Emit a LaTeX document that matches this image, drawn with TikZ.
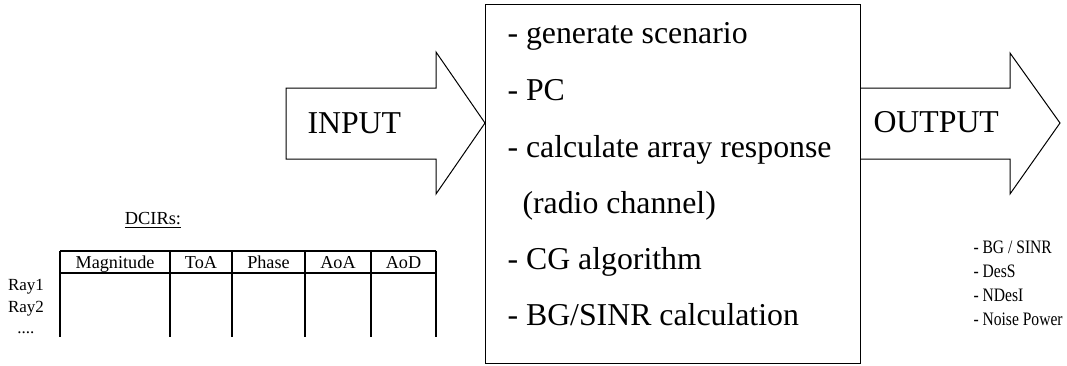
\documentclass[tikz,border=0pt]{standalone}
\usepackage{fontspec}
\setmainfont{Liberation Serif}

\begin{document}
\begin{tikzpicture}[
        x=0.5pt, y=-0.5pt, line width=0.5pt,
        every node/.style={inner sep=0pt},
        bigtxt/.style={anchor=base west, font=\fontsize{15.9}{18}\selectfont},
        hdrtxt/.style={anchor=base, font=\fontsize{9.1}{10}\selectfont},
        smalltxt/.style={anchor=base, font=\fontsize{8.5}{10}\selectfont},
        listtxt/.style={anchor=base west, font=\fontsize{9.5}{10}\selectfont},
        tbl/.style={line width=1pt},
    ]
    \useasboundingbox (0,0) rectangle (1067,365);

    % processing block
    \node[draw, anchor=north west, minimum width=187.5pt, minimum height=179.5pt]
        (proc) at (485,4) {};
    \node[bigtxt] (gen) at (507,43) {- generate scenario};
    \node[bigtxt] (pc) at (507,100) {- PC};
    \node[bigtxt] (arr) at (507,157) {- calculate array response};
    \node[bigtxt] (radio) at (522,213) {(radio channel)};
    \node[bigtxt] (cg) at (507,269) {- CG algorithm};
    \node[bigtxt] (bg) at (507,325) {- BG/SINR calculation};

    % input and output arrows
    \draw (286,88) -- (436,88) -- (436,52) -- (485,123) -- (436,194)
        -- (436,159) -- (286,159) -- cycle;
    \node[bigtxt] (input) at (307,133) {INPUT};
    \draw (860,88) -- (1010,88) -- (1010,53) -- (1060,123) -- (1010,194)
        -- (1010,159) -- (860,159);
    \node[bigtxt] (output) at (873,132) {OUTPUT};

    % DCIR table
    \node[smalltxt, font=\fontsize{9.2}{10}\selectfont] (dcir) at (153,224) {\underline{DCIRs:}};
    \foreach \cx in {60,170,232,305,371,436}
        \draw[tbl] (\cx,251) -- (\cx,337);
    \draw[tbl] (60,251) -- (436,251);
    \draw[tbl] (60,273) -- (436,273);
    \node[hdrtxt] (hmag) at (115,268) {Magnitude};
    \node[hdrtxt] (htoa) at (201,268) {ToA};
    \node[hdrtxt] (hphase) at (268.5,268) {Phase};
    \node[hdrtxt] (haoa) at (338,268) {AoA};
    \node[hdrtxt] (haod) at (403.5,268) {AoD};
    \node[smalltxt] (ray1) at (26,290) {Ray1};
    \node[smalltxt] (ray2) at (26,312) {Ray2};
    \node[smalltxt] (dots) at (26,333) {....};

    % outputs
    \node[listtxt] (sinr) at (973,253) {\scalebox{0.82}[1]{- BG / SINR}};
    \node[listtxt] (dess) at (973,277) {\scalebox{0.82}[1]{- DesS}};
    \node[listtxt] (ndesi) at (973,301) {\scalebox{0.82}[1]{- NDesI}};
    \node[listtxt] (noise) at (973,325) {\scalebox{0.82}[1]{- Noise Power}};

    \end{tikzpicture}
\end{document}
